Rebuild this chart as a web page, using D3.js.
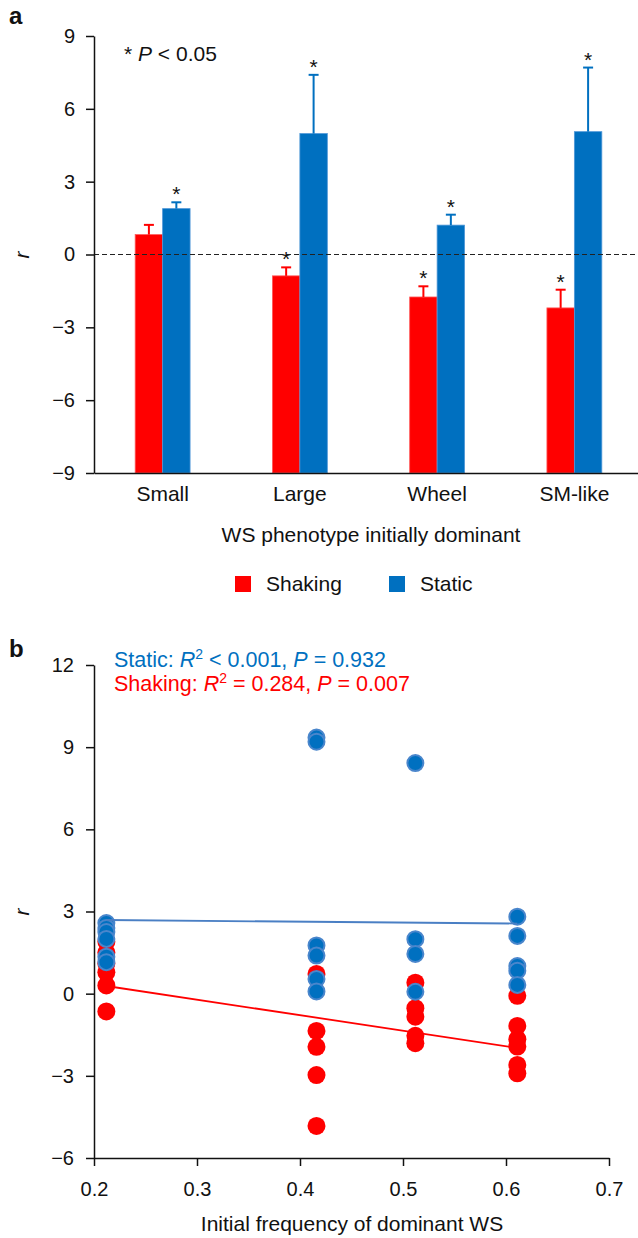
<!DOCTYPE html>
<html>
<head>
<meta charset="utf-8">
<script src="https://cdn.jsdelivr.net/npm/d3@7"></script>
<style>
  body { margin: 0; background: #fff; }
  text { font-family: "Liberation Sans", Arial, sans-serif; fill: #111; }
</style>
</head>
<body>
<script>
// panel a - bar data
const categories = ["Small", "Large", "Wheel", "SM-like"]
const shakingMean = [0.82, -0.88, -1.75, -2.2]
const shakingErr = [0.4, 0.35, 0.44, 0.75]
const staticMean = [1.89, 4.98, 1.21, 5.06]
const staticErr = [0.26, 2.42, 0.43, 2.64]
const shakingSig = [false, true, true, true]
const staticSig = [true, true, true, true]
const barTicks = [-9, -6, -3, 0, 3, 6, 9]

// panel b - scatter data
const freqs = [0.212, 0.416, 0.512, 0.611]
const staticR = [
  [2.58, 2.4, 2.25, 2.0, 1.35, 1.15],
  [9.35, 9.2, 1.76, 1.39, 0.54, 0.08],
  [8.42, 1.99, 1.45, 0.07],
  [2.81, 2.11, 1.01, 0.84, 0.32]
]
const shakingR = [
  [1.9, 1.5, 1.1, 0.78, 0.3, -0.65],
  [0.72, -1.36, -1.94, -2.97, -4.83],
  [0.4, -0.53, -0.84, -1.54, -1.81],
  [-0.08, -1.18, -1.66, -1.93, -2.6, -2.91]
]
const staticFit = [2.69, 2.56]
const shakingFit = [0.28, -1.98]
const scatterXTicks = [0.2, 0.3, 0.4, 0.5, 0.6, 0.7]
const scatterYTicks = [-6, -3, 0, 3, 6, 9, 12]

const RED = "#ff0000"
const BLUE = "#0070c0"

const svg = d3.select("body").append("svg")
  .attr("width", 638)
  .attr("height", 1238)

// ---------- panel a ----------
const yA = d3.scaleLinear().domain([-9, 9]).range([473, 36])
const xA = d3.scaleBand().domain(categories).range([94, 643])
const bw = xA.bandwidth() * 0.2

const bars = []
categories.forEach((c, i) => {
  const cx = xA(c) + xA.bandwidth() / 2
  bars.push({ x: cx - bw, v: shakingMean[i], e: shakingErr[i], sig: shakingSig[i], col: RED, edge: "#ff5a5a" })
  bars.push({ x: cx, v: staticMean[i], e: staticErr[i], sig: staticSig[i], col: BLUE, edge: "#4f97d8" })
})

const ga = svg.append("g")

ga.selectAll("rect.bar").data(bars).enter().append("rect")
  .attr("class", "bar")
  .attr("x", d => d.x)
  .attr("y", d => yA(d.v))
  .attr("width", bw)
  .attr("height", d => yA(-9) - yA(d.v))
  .attr("fill", d => d.col)
  .attr("stroke", d => d.edge)
  .attr("stroke-width", 0.8)

// error bars (upper only)
ga.selectAll("line.err").data(bars).enter().append("line")
  .attr("x1", d => d.x + bw / 2).attr("x2", d => d.x + bw / 2)
  .attr("y1", d => yA(d.v)).attr("y2", d => yA(d.v + d.e))
  .attr("stroke", d => d.col).attr("stroke-width", 2)
ga.selectAll("line.cap").data(bars).enter().append("line")
  .attr("x1", d => d.x + bw / 2 - 5).attr("x2", d => d.x + bw / 2 + 5)
  .attr("y1", d => yA(d.v + d.e)).attr("y2", d => yA(d.v + d.e))
  .attr("stroke", d => d.col).attr("stroke-width", 2)

// significance stars
ga.selectAll("text.star").data(bars.filter(d => d.sig)).enter().append("text")
  .attr("x", d => d.x + bw / 2)
  .attr("y", d => yA(d.v + d.e) - 1)
  .attr("text-anchor", "middle")
  .attr("font-size", "21px")
  .text("*")

// zero line
ga.append("line")
  .attr("x1", 94).attr("x2", 643)
  .attr("y1", yA(0)).attr("y2", yA(0))
  .attr("stroke", "#222").attr("stroke-width", 1.1)
  .attr("stroke-dasharray", "5,3")

// axes
const yAxisA = ga.append("g")
  .attr("transform", "translate(94,0)")
  .call(d3.axisLeft(yA).tickValues(barTicks).tickSize(8).tickSizeOuter(0).tickPadding(11))
const xAxisA = ga.append("g")
  .attr("transform", `translate(0,${yA(-9)})`)
  .call(d3.axisBottom(xA).tickSize(0).tickPadding(13))
ga.selectAll(".domain, .tick line").attr("stroke", "#111").attr("stroke-width", 1.5)
ga.selectAll(".tick text").attr("font-size", "20px").attr("fill", "#111")
xAxisA.selectAll(".tick text").attr("font-size", "21px")

ga.append("text")
  .attr("x", 371).attr("y", 542)
  .attr("text-anchor", "middle").attr("font-size", "21px")
  .text("WS phenotype initially dominant")

ga.append("text")
  .attr("transform", "translate(29,255) rotate(-90)")
  .attr("text-anchor", "middle").attr("font-size", "21px")
  .attr("font-style", "italic")
  .text("r")

const pnote = ga.append("text").attr("x", 124).attr("y", 61).attr("font-size", "21px")
pnote.append("tspan").text("* ")
pnote.append("tspan").attr("font-style", "italic").text("P")
pnote.append("tspan").text(" < 0.05")

ga.append("text").attr("x", 9).attr("y", 24)
  .attr("font-size", "24px").attr("font-weight", "bold").text("a")

// legend
const legend = [{ name: "Shaking", col: RED, x: 235 }, { name: "Static", col: BLUE, x: 389 }]
ga.selectAll("rect.leg").data(legend).enter().append("rect")
  .attr("x", d => d.x).attr("y", 576).attr("width", 16).attr("height", 16)
  .attr("fill", d => d.col)
ga.selectAll("text.leg").data(legend).enter().append("text")
  .attr("x", d => d.x + 31).attr("y", 591)
  .attr("font-size", "21px")
  .text(d => d.name)

// ---------- panel b ----------
const gb = svg.append("g")
const xB = d3.scaleLinear().domain([0.2, 0.7]).range([94, 609])
const yB = d3.scaleLinear().domain([-6, 12]).range([1158, 665])

const pts = []
freqs.forEach((f, i) => {
  shakingR[i].forEach(v => pts.push({ f: f, v: v }))
})
const ptsStatic = []
freqs.forEach((f, i) => {
  staticR[i].forEach(v => ptsStatic.push({ f: f, v: v }))
})

// shaking points first, static drawn over them
gb.selectAll("circle.sh").data(pts).enter().append("circle")
  .attr("cx", d => xB(d.f)).attr("cy", d => yB(d.v))
  .attr("r", 9).attr("fill", RED)

const f0 = freqs[0], f1 = freqs[freqs.length - 1]
gb.append("line")
  .attr("x1", xB(f0)).attr("x2", xB(f1))
  .attr("y1", yB(shakingFit[0])).attr("y2", yB(shakingFit[1]))
  .attr("stroke", RED).attr("stroke-width", 1.8)

gb.selectAll("circle.st").data(ptsStatic).enter().append("circle")
  .attr("cx", d => xB(d.f)).attr("cy", d => yB(d.v))
  .attr("r", 8).attr("fill", BLUE)
  .attr("stroke", "#4a86cc").attr("stroke-width", 2)

gb.append("line")
  .attr("x1", xB(f0)).attr("x2", xB(f1))
  .attr("y1", yB(staticFit[0])).attr("y2", yB(staticFit[1]))
  .attr("stroke", "#4a7fc4").attr("stroke-width", 1.8)

const xAxisB = gb.append("g")
  .attr("transform", "translate(0,1158)")
  .call(d3.axisBottom(xB).tickValues(scatterXTicks).tickFormat(d3.format(".1f"))
    .tickSize(8).tickSizeOuter(0).tickPadding(16))
const yAxisB = gb.append("g")
  .attr("transform", "translate(94,0)")
  .call(d3.axisLeft(yB).tickValues(scatterYTicks).tickSize(8).tickSizeOuter(0).tickPadding(12))
gb.selectAll(".domain, .tick line").attr("stroke", "#111").attr("stroke-width", 1.5)
gb.selectAll(".tick text").attr("font-size", "20px").attr("fill", "#111")

gb.append("text")
  .attr("x", 352).attr("y", 1231)
  .attr("text-anchor", "middle").attr("font-size", "21px")
  .text("Initial frequency of dominant WS")

gb.append("text")
  .attr("transform", "translate(29,912) rotate(-90)")
  .attr("text-anchor", "middle").attr("font-size", "21px")
  .attr("font-style", "italic")
  .text("r")

gb.append("text").attr("x", 9).attr("y", 657)
  .attr("font-size", "24px").attr("font-weight", "bold").text("b")

function statLine(y, col, label, rel, r2, p) {
  const t = gb.append("text").attr("x", 114).attr("y", y)
    .attr("font-size", "21.5px").style("fill", col)
  t.append("tspan").style("fill", col).text(label + ": ")
  t.append("tspan").style("fill", col).attr("font-style", "italic").text("R")
  t.append("tspan").style("fill", col).attr("font-size", "14px").attr("dy", -8).text("2")
  t.append("tspan").style("fill", col).attr("dy", 8).text(` ${rel} ${r2}, `)
  t.append("tspan").style("fill", col).attr("font-style", "italic").text("P")
  t.append("tspan").style("fill", col).text(` = ${p}`)
}
statLine(667, BLUE, "Static", "<", "0.001", "0.932")
statLine(691, RED, "Shaking", "=", "0.284", "0.007")
</script>
</body>
</html>
